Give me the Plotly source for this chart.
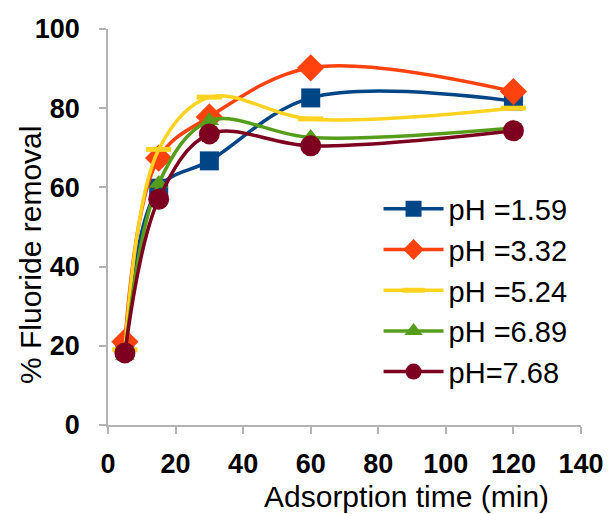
import plotly.graph_objects as go

time_min = [5, 15, 30, 60, 120]
series_names = ["pH =1.59", "pH =3.32", "pH =5.24", "pH =6.89", "pH=7.68"]
ph159 = [19.5, 59.8, 66.7, 82.6, 81.8]
ph332 = [21.0, 67.4, 77.8, 90.2, 84.2]
ph524 = [19.0, 69.6, 82.8, 77.3, 80.0]
ph689 = [17.5, 61.0, 76.8, 72.6, 75.0]
ph768 = [18.2, 57.0, 73.5, 70.5, 74.3]
x_ticks = [0, 20, 40, 60, 80, 100, 120, 140]
y_ticks = [0, 20, 40, 60, 80, 100]

colors = ["#004586", "#ff420e", "#ffd320", "#579d1c", "#7e0021"]
symbols = ["square", "diamond", "line-ew", "triangle-up", "circle"]
sizes = [19, 21, 18, 17, 21]
all_vals = [ph159, ph332, ph524, ph689, ph768]

fig = go.Figure()
for i, (name, vals, c, s, sz) in enumerate(zip(series_names, all_vals, colors, symbols, sizes)):
    marker = dict(symbol=s, size=sz, color=c, line=dict(width=0, color=c))
    if s == "line-ew":
        marker = dict(symbol=s, size=sz, color=c, line=dict(width=5, color=c))
    fig.add_trace(go.Scatter(
        x=time_min, y=vals, name=name, mode="lines+markers", legendgroup=f"g{i}",
        line=dict(color=c, width=3.5, shape="spline", smoothing=1.0),
        marker=marker,
    ))

axis_common = dict(
    showgrid=False, zeroline=False, showline=True, linecolor="#b3b3b3", linewidth=1.5,
    ticks="outside", ticklen=7, tickcolor="#b3b3b3", tickwidth=1.5, automargin=False,
    tickfont=dict(family="Liberation Sans, Arial", size=27, color="#000000", weight="bold"),
)

fig.update_layout(
    width=610, height=514,
    margin=dict(l=108, r=29, t=29, b=89),
    paper_bgcolor="white", plot_bgcolor="white",
    font=dict(family="Liberation Sans, Arial", color="#000000"),
    xaxis=dict(range=[0, 140], tickvals=x_ticks, ticklabelstandoff=7, **axis_common),
    yaxis=dict(range=[0, 100], tickvals=y_ticks, ticklabelstandoff=14, **axis_common),
    showlegend=True,
    legend=dict(x=0.572, y=0.61, xanchor="left", yanchor="top",
                font=dict(family="Liberation Sans, Arial", size=29, color="#000000"),
                bgcolor="rgba(0,0,0,0)", tracegroupgap=0, itemwidth=60),
    annotations=[
        dict(text="Adsorption time (min)", xref="paper", yref="paper",
             x=(406 - 108) / 473, y=-(496 - 425) / 396, xanchor="center", yanchor="middle",
             showarrow=False, font=dict(size=30, family="Liberation Sans, Arial", color="#000000")),
        dict(text="% Fluoride removal", xref="paper", yref="paper",
             x=-(108 - 30) / 473, y=(425 - 255) / 396, xanchor="center", yanchor="middle",
             textangle=-90, showarrow=False,
             font=dict(size=30, family="Liberation Sans, Arial", color="#000000")),
    ],
)

fig.write_html("out.html", config={"displayModeBar": False},
               post_script="document.body.style.margin='0px';document.body.style.padding='0px';")
